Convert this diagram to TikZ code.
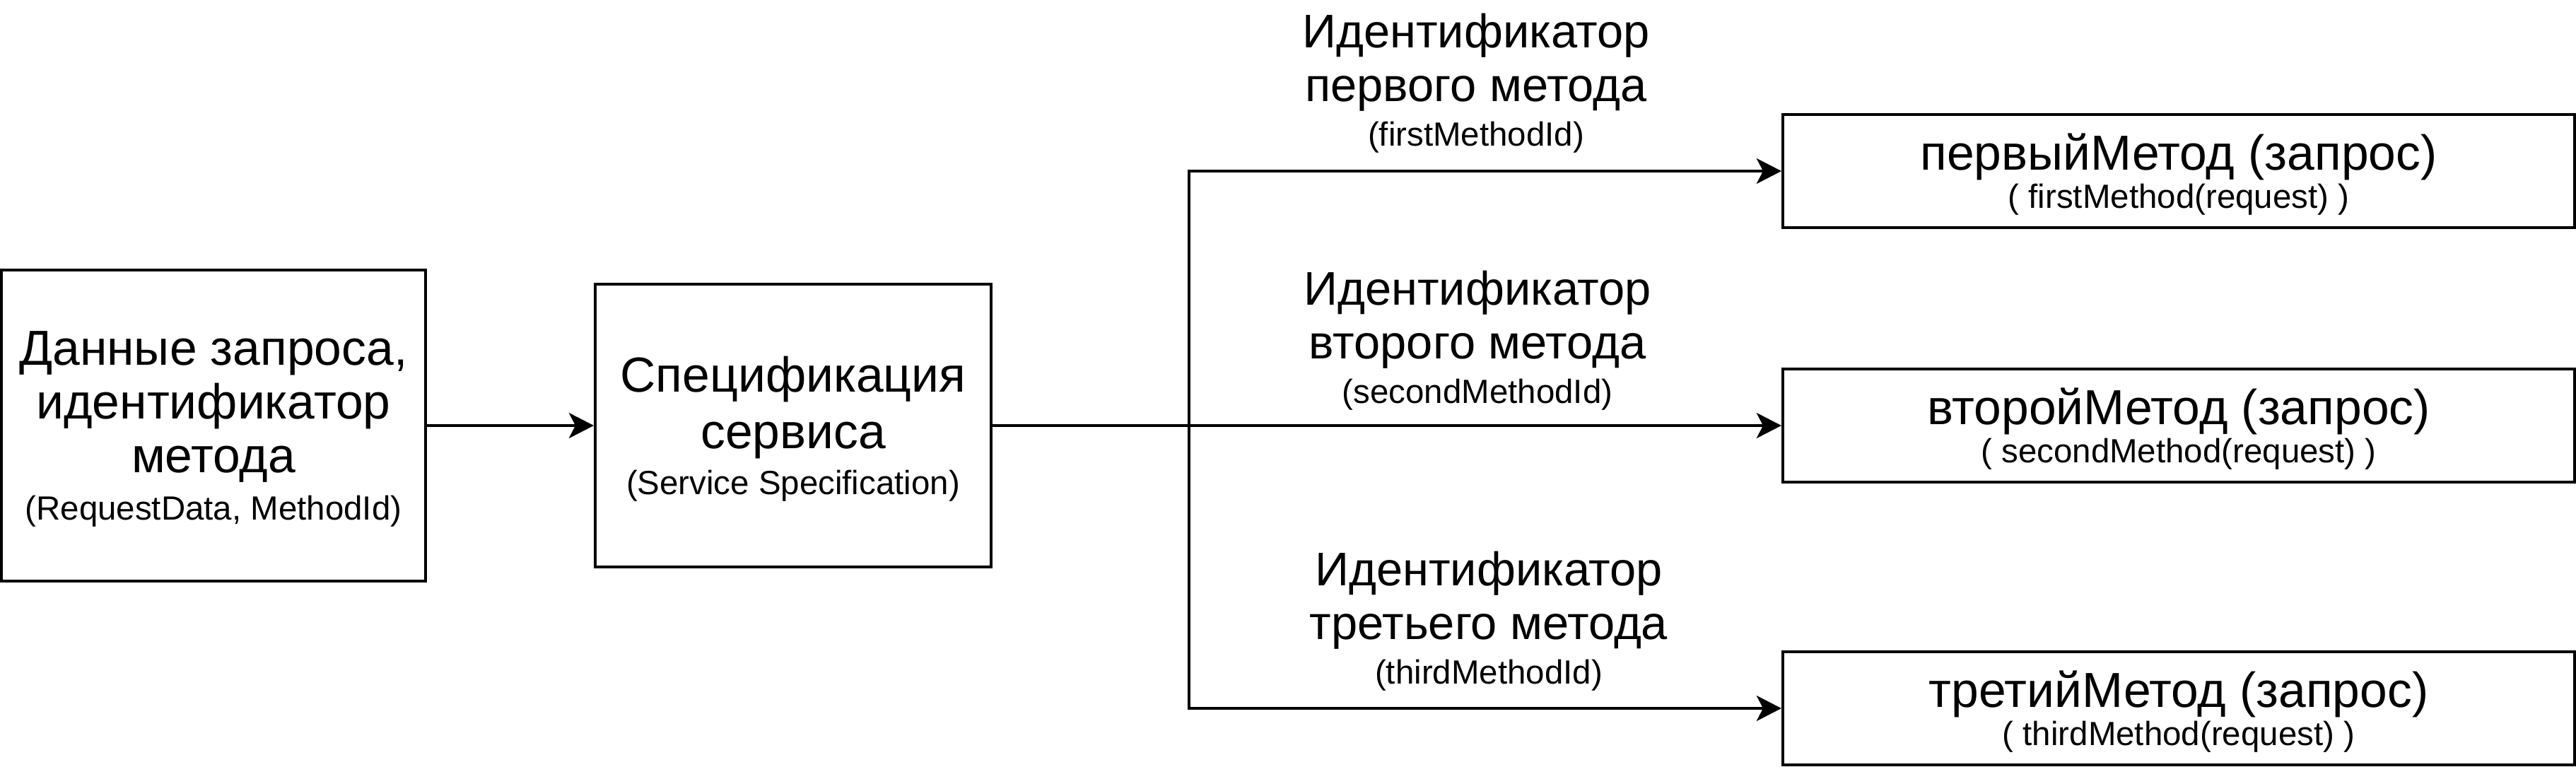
\documentclass[tikz,border=0pt]{standalone}
\usepackage{fontspec}
\setmainfont{Liberation Sans}
\usetikzlibrary{arrows.meta}

\newcommand{\mainsize}{\fontsize{19pt}{21.6pt}\selectfont}
\newcommand{\boxsize}{\fontsize{19.8pt}{21.6pt}\selectfont}
\newcommand{\subsize}{\fontsize{13.5pt}{16pt}\selectfont}

\begin{document}
\begin{tikzpicture}[
	box/.style={shape=rectangle, draw=black, line width=1.15pt, align=center, font=\boxsize, inner sep=0pt, text depth=-2.6pt},
	idlabel/.style={align=center, font=\mainsize, inner sep=0pt},
	>={Stealth[length=10pt, width=10.2pt, inset=2.6pt]}
]
	\useasboundingbox (0,0) rectangle (36.44,10.84);
	% request and specification
	\node[box, minimum width=6.00cm, minimum height=4.40cm] (req) at (3.02,4.82) {Данные запроса,\\идентификатор\\метода\\[-2.6pt]{\subsize (RequestData, MethodId)}};
	\node[box, minimum width=5.60cm, minimum height=4.00cm] (spec) at (11.22,4.82) {Спецификация\\[1pt]сервиса\\[-3pt]{\subsize (Service Specification)}};
	% methods
	\node[box, minimum width=11.20cm, minimum height=1.60cm] (m1) at (30.82,8.42) {первыйМетод (запрос)\\[-6.2pt]{\subsize ( firstMethod(request) )}};
	\node[box, minimum width=11.20cm, minimum height=1.60cm] (m2) at (30.82,4.82) {второйМетод (запрос)\\[-6.2pt]{\subsize ( secondMethod(request) )}};
	\node[box, minimum width=11.20cm, minimum height=1.60cm] (m3) at (30.82,0.82) {третийМетод (запрос)\\[-6.2pt]{\subsize ( thirdMethod(request) )}};
	% method ids
	\node[idlabel] (id1) at (20.88,9.665) {Идентификатор\\первого метода\\[-3.7pt]{\subsize (firstMethodId)}};
	\node[idlabel] (id2) at (20.90,6.025) {Идентификатор\\второго метода\\[-3.7pt]{\subsize (secondMethodId)}};
	\node[idlabel] (id3) at (21.06,2.05) {Идентификатор\\третьего метода\\[-3.7pt]{\subsize (thirdMethodId)}};
	\coordinate (fork) at (16.82,4.82);
	\draw [->, line width=1.15pt] (req) -- (spec);
	\draw [->, line width=1.15pt] (spec) -- (fork) -- (m2);
	\draw [->, line width=1.15pt] (fork) |- (m1);
	\draw [->, line width=1.15pt] (fork) |- (m3);
\end{tikzpicture}
\end{document}
